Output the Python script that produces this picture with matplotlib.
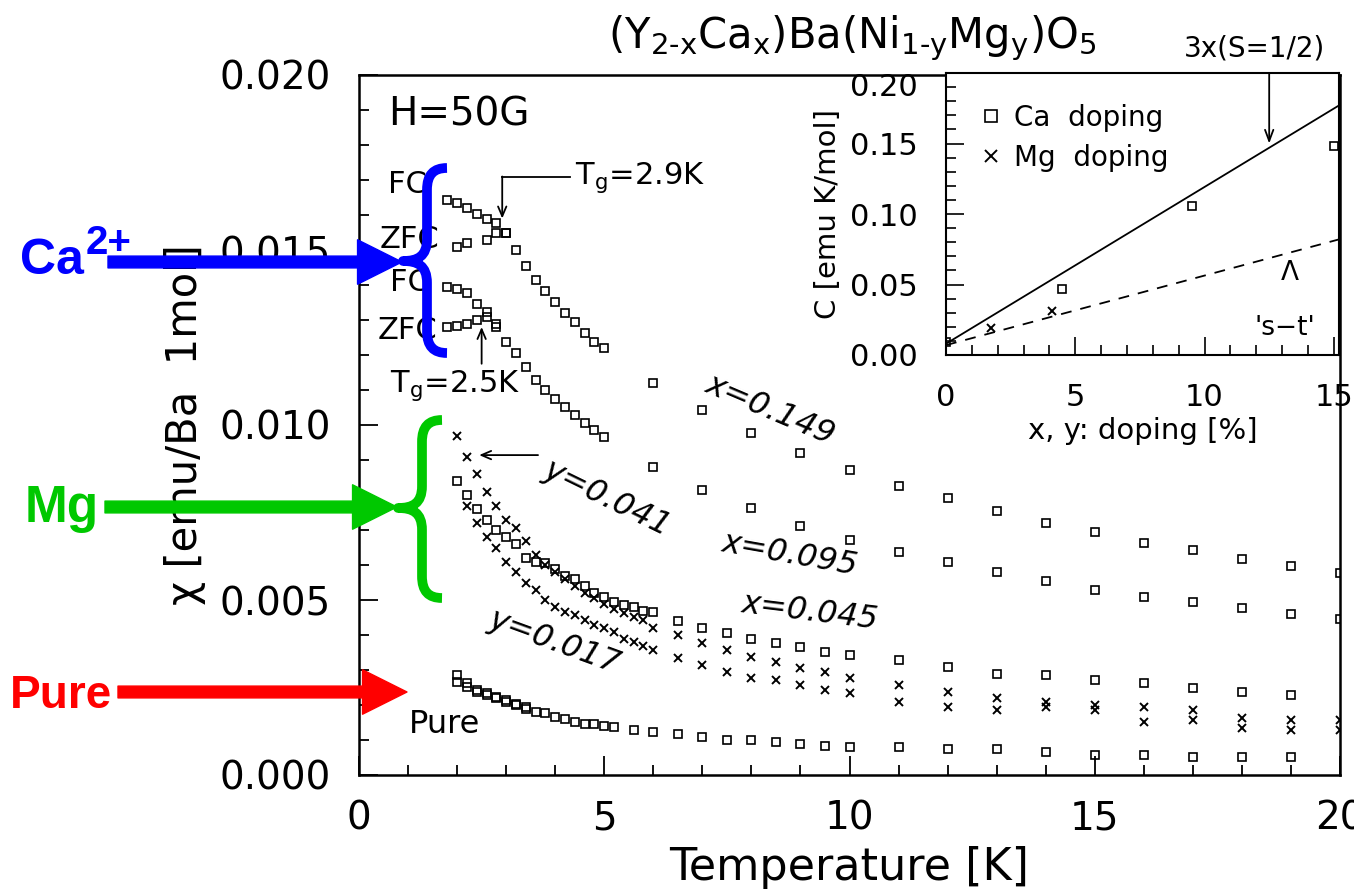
import numpy as np
import matplotlib.pyplot as plt
from matplotlib.patches import FancyArrowPatch, PathPatch
from matplotlib.path import Path

plt.rcParams['font.family'] = 'DejaVu Sans'

W, H = 1354, 892

# ---- main panel: chi(T), H=50G ----
T_ca149 = [1.8, 2.0, 2.2, 2.4, 2.6, 2.8, 3.0, 3.2, 3.4, 3.6, 3.8, 4.0, 4.2, 4.4, 4.6, 4.8, 5.0,
           6, 7, 8, 9, 10, 11, 12, 13, 14, 15, 16, 17, 18, 19, 20]
chi_ca149_fc = [0.01643, 0.01633, 0.01619, 0.01603, 0.01588, 0.01576, 0.01548, 0.0150, 0.01455,
                0.01414, 0.01383, 0.01352, 0.01319, 0.01295, 0.01262, 0.01238, 0.01219,
                0.0112, 0.01043, 0.00978, 0.00919, 0.00871, 0.00826, 0.00791, 0.00754,
                0.00719, 0.00693, 0.00664, 0.00643, 0.00617, 0.00598, 0.00576]
T_ca149_zfc = [2.0, 2.2, 2.6, 2.8, 3.0]
chi_ca149_zfc = [0.0151, 0.0152, 0.0153, 0.0155, 0.0155]

T_ca095 = T_ca149
chi_ca095_fc = [0.01395, 0.01388, 0.01376, 0.01347, 0.01323, 0.0128, 0.01238, 0.01205, 0.01166,
                0.01129, 0.011, 0.01075, 0.01052, 0.01029, 0.01005, 0.00986, 0.00967,
                0.00881, 0.00814, 0.00762, 0.00712, 0.00671, 0.00638, 0.00608, 0.00579,
                0.00554, 0.0053, 0.00509, 0.00493, 0.00476, 0.0046, 0.00447]
T_ca095_zfc = [1.8, 2.0, 2.2, 2.4, 2.6, 2.8]
chi_ca095_zfc = [0.0128, 0.01283, 0.0129, 0.013, 0.0131, 0.0129]

T_ca045 = [2.0, 2.2, 2.4, 2.6, 2.8, 3.0, 3.2, 3.4, 3.6, 3.8, 4.0, 4.2, 4.4, 4.6, 4.8, 5.0, 5.2,
           5.4, 5.6, 5.8, 6.0, 6.5, 7, 7.5, 8, 8.5, 9, 9.5, 10, 11, 12, 13, 14, 15, 16, 17, 18, 19]
chi_ca045 = [0.0084, 0.0080, 0.0076, 0.0073, 0.0070, 0.0068, 0.0066, 0.0062, 0.0061, 0.00605,
             0.0059, 0.0057, 0.0056, 0.0054, 0.0052, 0.0051, 0.00495, 0.00486, 0.0048, 0.0047,
             0.00466, 0.0044, 0.00419, 0.00405, 0.0039, 0.00376, 0.00367, 0.00352, 0.00343,
             0.00329, 0.00309, 0.0029, 0.00286, 0.00271, 0.00262, 0.00248, 0.00238, 0.0023]

T_mg041 = [2.0, 2.2, 2.4, 2.6, 2.8, 3.0, 3.2, 3.4, 3.6, 3.8, 4.0, 4.2, 4.4, 4.6, 4.8, 5.0, 5.2,
           5.4, 5.6, 5.8, 6.0, 6.5, 7, 7.5, 8, 8.5, 9, 9.5, 10, 11, 12, 13, 14, 15, 16, 17, 18,
           19, 20]
chi_mg041 = [0.0097, 0.0091, 0.0086, 0.0081, 0.0077, 0.0073, 0.00705, 0.0067, 0.0063, 0.0060,
             0.0058, 0.0056, 0.0054, 0.0052, 0.00505, 0.0049, 0.00475, 0.00462, 0.00452,
             0.00443, 0.0042, 0.0040, 0.00376, 0.00357, 0.00338, 0.00324, 0.00305, 0.00295,
             0.00276, 0.00257, 0.00238, 0.00219, 0.00209, 0.0020, 0.00195, 0.00186, 0.00163,
             0.00157, 0.00157]

T_mg017 = [2.2, 2.4, 2.6, 2.8, 3.0, 3.2, 3.4, 3.6, 3.8, 4.0, 4.2, 4.4, 4.6, 4.8, 5.0, 5.2, 5.4,
           5.6, 5.8, 6.0, 6.5, 7, 7.5, 8, 8.5, 9, 9.5, 10, 11, 12, 13, 14, 15, 16, 17, 18, 19, 20]
chi_mg017 = [0.0077, 0.0072, 0.0068, 0.0065, 0.0061, 0.0058, 0.0055, 0.0053, 0.0050, 0.0048,
             0.00466, 0.00457, 0.00443, 0.0043, 0.0042, 0.0041, 0.0039, 0.0038, 0.0037, 0.00357,
             0.00333, 0.00314, 0.00295, 0.00276, 0.00271, 0.00257, 0.00243, 0.00233, 0.00209,
             0.00195, 0.00186, 0.00195, 0.00186, 0.00152, 0.00157, 0.00134, 0.00129, 0.00129]

T_pure = [2.0, 2.2, 2.4, 2.6, 2.8, 3.0, 3.2, 3.4, 3.6, 3.8, 4.0, 4.2, 4.4, 4.6, 4.8, 5.0, 5.2,
          5.6, 6.0, 6.5, 7, 7.5, 8, 8.5, 9, 9.5, 10, 11, 12, 13, 14, 15, 16, 17, 18, 19]
chi_pure = [0.00286, 0.00262, 0.00238, 0.00233, 0.00219, 0.00209, 0.00204, 0.00195, 0.00181,
            0.00176, 0.00167, 0.00159, 0.00152, 0.00147, 0.00146, 0.0014, 0.00138, 0.00129,
            0.00124, 0.00116, 0.0011, 0.0010, 0.0010, 0.00095, 0.0009, 0.00083, 0.00081,
            0.00079, 0.00073, 0.00073, 0.00067, 0.00057, 0.00057, 0.00052, 0.00052, 0.00052]
T_pure2 = [2.0, 2.2, 2.4, 2.6, 2.8, 3.0, 3.2, 3.4]
chi_pure2 = [0.00267, 0.00252, 0.00243, 0.00228, 0.00224, 0.00214, 0.0020, 0.0019]

xticks = [0, 5, 10, 15, 20]
yticks = [0.0, 0.005, 0.010, 0.015, 0.020]
ylabels = ['0.000', '0.005', '0.010', '0.015', '0.020']

# ---- inset: Curie constant vs doping ----
ca_dop = [0.0, 4.5, 9.5, 15.0]
ca_C = [0.009, 0.047, 0.106, 0.148]
mg_dop = [1.75, 4.1]
mg_C = [0.019, 0.031]
line_x = [0, 15.2]
line_3x = [0.008, 0.177]     # 3x(S=1/2)
line_st = [0.007, 0.082]     # 's-t'
in_xticks = [0, 5, 10, 15]
in_yticks = [0.0, 0.05, 0.10, 0.15, 0.20]
in_ylabels = ['0.00', '0.05', '0.10', '0.15', '0.20']


def px(x, y):
    # picture pixels (top-left origin) -> figure fraction
    return x / W, 1 - y / H


fig = plt.figure(figsize=(13.54, 8.92), dpi=100)
ax = fig.add_axes([359 / W, 1 - 775 / H, (1340 - 359) / W, (775 - 75) / H])

sq = dict(ls='none', marker='s', ms=6, mfc='none', mec='k', mew=1.2)
cr = dict(ls='none', marker='x', ms=6, mec='k', mew=1.4)

ax.plot(T_ca149, chi_ca149_fc, **sq)
ax.plot(T_ca149_zfc, chi_ca149_zfc, **sq)
ax.plot(T_ca095, chi_ca095_fc, **sq)
ax.plot(T_ca095_zfc, chi_ca095_zfc, **sq)
ax.plot(T_ca045, chi_ca045, **sq)
ax.plot(T_mg041, chi_mg041, **cr)
ax.plot(T_mg017, chi_mg017, **cr)
ax.plot(T_pure, chi_pure, **sq)
ax.plot(T_pure2, chi_pure2, **sq)

ax.set_xlim(0, 20)
ax.set_ylim(0, 0.020)
ax.set_xticks(xticks)
ax.set_xticks(np.arange(0, 21, 1), minor=True)
ax.set_yticks(yticks)
ax.set_yticklabels(ylabels)
ax.set_yticks(np.arange(0, 0.0201, 0.001), minor=True)
ax.tick_params(which='both', direction='in', top=False, right=False, width=1.3)
ax.tick_params(which='major', length=14, labelsize=28)
ax.tick_params(which='minor', length=7)
ax.tick_params(axis='y', pad=20)
ax.tick_params(axis='x', pad=18)
for s in ax.spines.values():
    s.set_linewidth(1.8)
ax.set_xlabel('Temperature [K]', fontsize=32, labelpad=6)
ax.set_ylabel('χ [emu/Ba  1mol]', fontsize=30, labelpad=10)

fig.text(*px(852, 38), r'(Y$_{\text{2-x}}$Ca$_{\text{x}}$)Ba(Ni$_{\text{1-y}}$Mg$_{\text{y}}$)O$_{\text{5}}$',
         ha='center', va='center', fontsize=30)

# text inside main panel
ax.text(0.59, 0.01886, 'H=50G', fontsize=28, va='center')
ax.text(0.59, 0.01686, 'FC', fontsize=22, va='center')
ax.text(0.43, 0.01529, 'ZFC', fontsize=22, va='center')
ax.text(0.63, 0.01406, 'FC', fontsize=22, va='center')
ax.text(0.37, 0.01271, 'ZFC', fontsize=22, va='center')
ax.text(4.4, 0.01706, r'T$_{\mathrm{g}}$=2.9K', fontsize=22, va='center')
ax.plot([2.92, 4.3], [0.0171, 0.0171], 'k-', lw=1.3)
ax.annotate('', xy=(2.92, 0.0159), xytext=(2.92, 0.0171),
            arrowprops=dict(arrowstyle='->,head_length=0.7,head_width=0.3', lw=1.3, shrinkA=0, shrinkB=0))
ax.text(0.63, 0.01114, r'T$_{\mathrm{g}}$=2.5K', fontsize=22, va='center')
ax.annotate('', xy=(2.5, 0.0128), xytext=(2.5, 0.01175),
            arrowprops=dict(arrowstyle='->,head_length=0.7,head_width=0.3', lw=1.3, shrinkA=0, shrinkB=0))
ax.annotate('', xy=(2.45, 0.00914), xytext=(3.65, 0.00914),
            arrowprops=dict(arrowstyle='->,head_length=0.7,head_width=0.3', lw=1.3, shrinkA=0, shrinkB=0))

lab = dict(fontsize=23, style='italic', ha='center', va='center')
ax.text(8.38, 0.01043, 'x=0.149', rotation=-23, **lab)
ax.text(8.79, 0.00629, 'x=0.095', rotation=-10, **lab)
ax.text(9.2, 0.00466, 'x=0.045', rotation=-7, **lab)
ax.text(5.06, 0.0079, 'y=0.041', rotation=-26, **lab)
ax.text(4.0, 0.0038, 'y=0.017', rotation=-20, **lab)
ax.text(1.75, 0.00143, 'Pure', fontsize=23, ha='center', va='center')

# ---- inset ----
axin = fig.add_axes([946 / W, 1 - 355 / H, (1339 - 946) / W, (355 - 73) / H])
axin.set_facecolor('white')
axin.plot(line_x, line_3x, 'k-', lw=1.3)
axin.plot(line_x, line_st, 'k--', lw=1.3, dashes=(6, 5))
axin.plot(ca_dop, ca_C, label='Ca  doping', **sq)
axin.plot(mg_dop, mg_C, label='Mg  doping', **cr)
axin.set_xlim(0, 15.2)
axin.set_ylim(0, 0.2)
axin.set_xticks(in_xticks)
axin.set_xticks(np.arange(0, 16, 1), minor=True)
axin.set_yticks(in_yticks)
axin.set_yticklabels(in_ylabels)
axin.get_yticklabels()[-1].set_va('top')   # top label sits below the title
axin.set_yticks(np.arange(0, 0.201, 0.01), minor=True)
axin.tick_params(which='both', direction='in', top=False, right=False, width=1.2)
axin.tick_params(which='major', length=13, labelsize=22)
axin.tick_params(which='minor', length=7)
axin.tick_params(axis='y', pad=20)
axin.tick_params(axis='x', pad=20)
for s in axin.spines.values():
    s.set_linewidth(1.5)
axin.set_xlabel('x, y: doping [%]', fontsize=21, labelpad=4)
axin.set_ylabel('C [emu K/mol]', fontsize=21, labelpad=6)
axin.legend(loc='upper left', bbox_to_anchor=(0.085, 0.89), frameon=False, fontsize=20,
            handlelength=0.8, handletextpad=0.45, labelspacing=0.42, borderpad=0,
            borderaxespad=0, markerscale=1.4)
axin.annotate('', xy=(12.5, 0.150), xytext=(12.5, 0.2),
              arrowprops=dict(arrowstyle='->,head_length=0.8,head_width=0.3', lw=1.3, shrinkA=0, shrinkB=0))
fig.text(*px(1255, 48), '3x(S=1/2)', fontsize=20, ha='center', va='center')
axin.text(13.1, 0.019, "'s\u2212t'", fontsize=19, ha='center', va='center')
axin.text(13.3, 0.058, 'Λ', fontsize=19, ha='center', va='center')

# ---- coloured overlay: arrows + braces ----
def arrow(x0, x1, y, color):
    a = FancyArrowPatch(px(x0, y), px(x1, y), transform=fig.transFigure,
                        arrowstyle='simple,head_length=3.2,head_width=3.2,tail_width=0.85',
                        mutation_scale=10, color=color, shrinkA=0, shrinkB=0)
    fig.add_artist(a)


def brace(xe, xs, xt, y0, ym, y1, color, r=22):
    verts = [(xe, y0), (xs + r * 0.3, y0), (xs, y0 + r * 0.3), (xs, y0 + r),
             (xs, ym - r),
             (xs, ym - r * 0.2), (xs - (xs - xt) * 0.4, ym), (xt, ym),
             (xs - (xs - xt) * 0.4, ym), (xs, ym + r * 0.2), (xs, ym + r),
             (xs, y1 - r),
             (xs, y1 - r * 0.3), (xs + r * 0.3, y1), (xe, y1)]
    codes = [Path.MOVETO, Path.CURVE4, Path.CURVE4, Path.CURVE4, Path.LINETO,
             Path.CURVE4, Path.CURVE4, Path.CURVE4, Path.CURVE4, Path.CURVE4, Path.CURVE4,
             Path.LINETO, Path.CURVE4, Path.CURVE4, Path.CURVE4]
    p = PathPatch(Path([px(*v) for v in verts], codes), transform=fig.transFigure,
                  fill=False, lw=7, ec=color, capstyle='butt', joinstyle='round')
    fig.add_artist(p)


blue, green, red = '#0000ff', '#00c800', '#ff0000'
arrow(108, 402, 262, blue)
arrow(105, 397, 507, green)
arrow(118, 407, 692, red)
brace(447, 427, 403, 168, 261, 353, blue)
brace(442, 422, 398, 420, 508, 598, green)

bold = dict(family='Liberation Sans', weight='bold', va='baseline', ha='left')
fig.text(*px(20, 274), 'Ca', fontsize=36, color=blue, **bold)
fig.text(*px(86, 254), '2+', fontsize=29, color=blue, **bold)
fig.text(*px(25, 522), 'Mg', fontsize=37, color=green, **bold)
fig.text(*px(10, 708), 'Pure', fontsize=33, color=red, **bold)

plt.savefig('out.png', dpi=100)
